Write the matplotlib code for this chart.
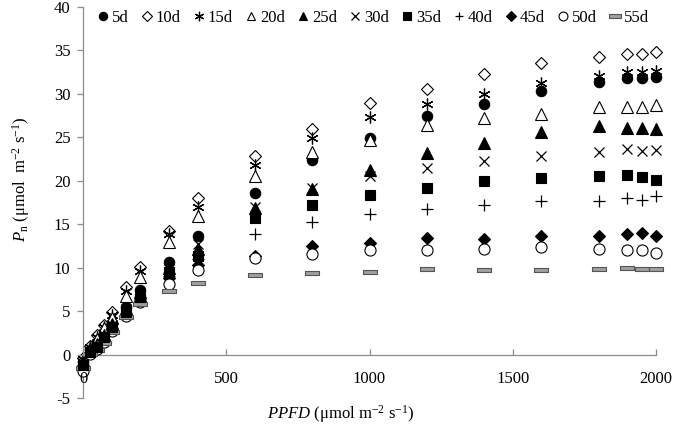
import numpy as np
import matplotlib
matplotlib.use('Agg')
from matplotlib import pyplot as plt

plt.rcParams['font.family'] = ['Liberation Serif', 'DejaVu Serif']
plt.rcParams['mathtext.fontset'] = 'custom'
plt.rcParams['mathtext.rm'] = 'Liberation Serif'
plt.rcParams['mathtext.it'] = 'Liberation Serif:italic'
plt.rcParams['axes.unicode_minus'] = False

# PPFD levels of the light response curve
ppfd = [0, 25, 50, 75, 100, 150, 200, 300, 400, 600, 800, 1000, 1200, 1400, 1600, 1800, 1900, 1950, 2000]

labels = ['5d', '10d', '15d', '20d', '25d', '30d', '35d', '40d', '45d', '50d', '55d']

pn_5d = [-0.8, 0.6, 1.3, 2.4, 3.6, 5.5, 7.4, 10.6, 13.7, 18.6, 22.4, 24.9, 27.4, 28.8, 30.3, 31.4, 31.8, 31.8, 32.0]
pn_10d = [-0.4, 1.0, 2.2, 3.45, 4.9, 7.75, 10.1, 14.2, 18.0, 22.8, 26.0, 28.9, 30.6, 32.3, 33.6, 34.3, 34.6, 34.6, 34.8]
pn_15d = [-0.5, 0.9, 2.0, 3.2, 4.5, 7.3, 9.6, 13.9, 17.0, 21.8, 24.9, 27.3, 28.8, 30.0, 31.3, 32.1, 32.5, 32.5, 32.6]
pn_20d = [-0.6, 0.8, 1.8, 3.0, 4.2, 6.7, 8.9, 12.9, 16.0, 20.6, 23.3, 24.7, 26.4, 27.2, 27.7, 28.5, 28.5, 28.5, 28.7]
pn_25d = [-0.9, 0.5, 1.2, 2.3, 3.5, 5.3, 7.2, 10.0, 12.2, 16.9, 19.0, 21.2, 23.2, 24.4, 25.6, 26.3, 26.1, 26.1, 26.0]
pn_30d = [-1.0, 0.4, 1.1, 2.2, 3.4, 5.2, 7.0, 9.8, 12.75, 17.0, 19.2, 20.5, 21.5, 22.3, 22.8, 23.3, 23.6, 23.4, 23.5]
pn_35d = [-1.2, 0.3, 0.9, 2.0, 3.2, 4.9, 6.6, 9.5, 11.4, 15.7, 17.2, 18.4, 19.2, 20.0, 20.3, 20.6, 20.7, 20.4, 20.1]
pn_40d = [-1.3, 0.2, 0.8, 1.8, 3.0, 4.8, 6.4, 9.0, 11.0, 13.9, 15.3, 16.2, 16.8, 17.2, 17.7, 17.7, 18.0, 17.8, 18.2]
pn_45d = [-1.4, 0.2, 0.7, 1.7, 2.9, 4.6, 6.2, 8.8, 10.25, 11.3, 12.5, 12.8, 13.4, 13.25, 13.7, 13.6, 13.9, 14.0, 13.6]
pn_50d = [-1.9, 0.1, 0.6, 1.5, 2.7, 4.4, 6.0, 8.1, 9.75, 11.1, 11.6, 12.0, 12.0, 12.2, 12.4, 12.2, 12.0, 12.0, 11.7]
pn_55d = [-1.6, 0.1, 0.5, 1.3, 2.6, 4.3, 5.8, 7.3, 8.25, 9.1, 9.35, 9.5, 9.85, 9.7, 9.7, 9.9, 10.0, 9.9, 9.9]

series = [pn_5d, pn_10d, pn_15d, pn_20d, pn_25d, pn_30d, pn_35d, pn_40d, pn_45d, pn_50d, pn_55d]

bar = [(-1, -0.32), (1, -0.32), (1, 0.32), (-1, 0.32), (-1, -0.32)]
# marker, size, face, edge, edge width, zorder
styles = [
    ('o', 7.5, 'black', 'black', 0.8, 2),
    ('D', 6.0, 'white', 'black', 0.8, 2),
    ((6, 2, 0), 8.5, 'black', 'black', 0.9, 2),
    ('^', 8.0, 'white', 'black', 0.8, 2),
    ('^', 8.0, 'black', 'black', 0.8, 2),
    ('x', 7.5, 'black', 'black', 0.9, 2),
    ('s', 7.5, 'black', 'black', 0.8, 3),
    ('+', 8.0, 'black', 'black', 0.9, 2),
    ('D', 6.0, 'black', 'black', 0.8, 2),
    ('o', 8.0, 'white', 'black', 0.8, 2),
    (bar, 10.0, '#a0a0a0', '#555555', 0.8, 2),
]

fig = plt.figure(figsize=(6.85, 4.28), dpi=100)
ax = fig.add_axes([83/685, 1 - 398/428, (656 - 83)/685, (398 - 7)/428])
ax.set_axisbelow(False)

for lab, vals, (m, ms, fc, ec, mew, z) in zip(labels, series, styles):
    ax.plot(ppfd, vals, linestyle='none', marker=m, markersize=ms,
            markerfacecolor=fc, markeredgecolor=ec, markeredgewidth=mew,
            color=ec, label=lab, clip_on=False, zorder=z)

ax.set_xlim(0, 2000)
ax.set_ylim(-5, 40)
ax.set_xticks([0, 500, 1000, 1500, 2000])
ax.set_yticks(np.arange(-5, 41, 5))

ax.spines['top'].set_visible(False)
ax.spines['right'].set_visible(False)
ax.spines['bottom'].set_position(('data', 0))
for s in ['left', 'bottom']:
    ax.spines[s].set_color('#8c8c8c')
    ax.spines[s].set_linewidth(0.9)
    ax.spines[s].set_zorder(1)

ax.tick_params(axis='x', direction='in', length=4, width=0.9, color='#8c8c8c',
               pad=12, labelsize=12)
ax.tick_params(axis='y', direction='out', length=4, width=0.9, color='#8c8c8c',
               pad=5, labelsize=12)

ax.set_xlabel(r'$PPFD$ (μmol m$^{-2}$ s$^{-1}$)', fontsize=12)
ax.xaxis.set_label_coords(0.449, -0.012)
ax.set_ylabel(r'$P_{\mathrm{n}}$ (μmol  m$^{-2}$ s$^{-1}$)', fontsize=12)
ax.yaxis.set_label_coords(-0.089, 0.56)

ax.legend(loc='upper left', bbox_to_anchor=(0.01, 1.01), ncol=11, frameon=False,
          fontsize=12, handletextpad=0.1, columnspacing=0.62, handlelength=0.9,
          markerscale=0.8, borderaxespad=0)

fig.savefig('out.png', dpi=100)
